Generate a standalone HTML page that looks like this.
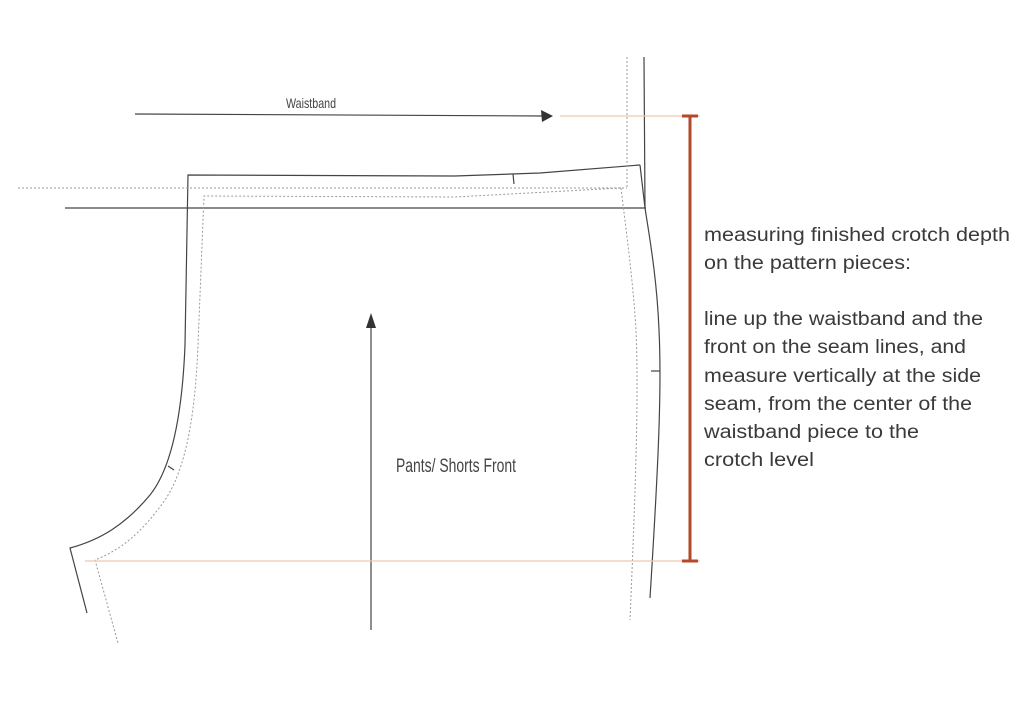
<!DOCTYPE html>
<html><head><meta charset="utf-8"><style>
html,body{margin:0;padding:0;background:#fff;}
svg{display:block;}
.t{font-family:"Liberation Sans",sans-serif;font-size:19px;fill:#3a3a3a;}
.h{font-family:"Liberation Sans Narrow","Liberation Sans",sans-serif;fill:#444;}
</style></head><body>
<svg width="1024" height="715" viewBox="0 0 1024 715" xmlns="http://www.w3.org/2000/svg">
<g fill="none" stroke="#444" stroke-width="1.2">
<line x1="135" y1="114" x2="545" y2="116"/>
<line x1="644" y1="57" x2="645" y2="208"/>
<line x1="65" y1="208" x2="646" y2="208"/>
<path d="M640,165 L540,173 L455,176 L188,175 L185,345 C182,420 170,470 150,495 C125,525 100,540 70,548 L87,613"/>
<path d="M640,165 L645,208 C650,240 657,280 659,330 C662,390 658,470 650,598"/>
<line x1="513" y1="174" x2="514" y2="184"/>
<line x1="651" y1="371" x2="660" y2="371"/>
<line x1="168" y1="466" x2="174" y2="470"/>
<line x1="371" y1="630" x2="371" y2="322"/>
</g>
<polygon points="553,116 541,110 542,122" fill="#333"/>
<polygon points="371,313 366,328 376,328" fill="#333"/>
<g fill="none" stroke="#999" stroke-width="1" stroke-dasharray="2,2">
<line x1="627" y1="57" x2="627" y2="188"/>
<line x1="18" y1="188" x2="627" y2="188"/>
<path d="M621,188 L455,197 L204,196 L198,345 C195,420 185,470 165,500 C140,535 120,550 95,560 L118,643"/>
<path d="M621,188 C626,230 633,280 636,330 C639,400 635,500 630,620"/>
</g>
<g stroke="#f0c8b0" stroke-width="1.2">
<line x1="560" y1="116" x2="700" y2="116"/>
<line x1="85" y1="561" x2="700" y2="561"/>
</g>
<g stroke="#b5482a" stroke-width="3">
<line x1="690" y1="116" x2="690" y2="561"/>
<line x1="682" y1="116" x2="698" y2="116"/>
<line x1="682" y1="561" x2="698" y2="561"/>
</g>
<text class="h" x="286" y="108" font-size="14" textLength="50" lengthAdjust="spacingAndGlyphs">Waistband</text>
<text class="h" x="396" y="472" font-size="19" textLength="120" lengthAdjust="spacingAndGlyphs">Pants/ Shorts Front</text>
<text class="t" x="704" y="241" textLength="306" lengthAdjust="spacingAndGlyphs">measuring finished crotch depth</text>
<text class="t" x="704" y="269" textLength="207" lengthAdjust="spacingAndGlyphs">on the pattern pieces:</text>
<text class="t" x="704" y="325" textLength="279" lengthAdjust="spacingAndGlyphs">line up the waistband and the</text>
<text class="t" x="704" y="353" textLength="262" lengthAdjust="spacingAndGlyphs">front on the seam lines, and</text>
<text class="t" x="704" y="382" textLength="277" lengthAdjust="spacingAndGlyphs">measure vertically at the side</text>
<text class="t" x="704" y="410" textLength="268" lengthAdjust="spacingAndGlyphs">seam, from the center of the</text>
<text class="t" x="704" y="438" textLength="215" lengthAdjust="spacingAndGlyphs">waistband piece to the</text>
<text class="t" x="704" y="466" textLength="110" lengthAdjust="spacingAndGlyphs">crotch level</text>
</svg>
</body></html>
